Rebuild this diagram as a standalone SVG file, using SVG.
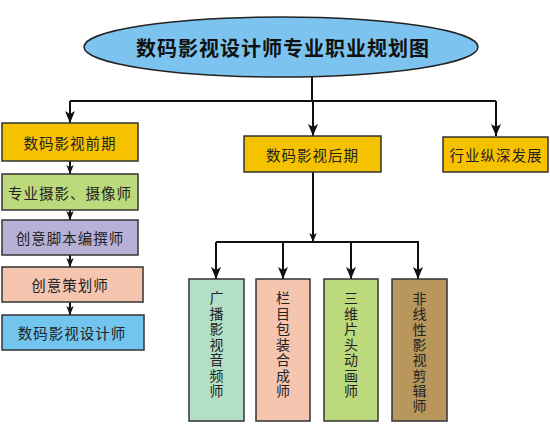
<svg xmlns="http://www.w3.org/2000/svg" width="550" height="440" viewBox="0 0 550 440">
<defs>
<marker id="ah" viewBox="0 0 12 10" refX="12" refY="5" markerWidth="12" markerHeight="10" markerUnits="userSpaceOnUse" orient="auto">
<path d="M0,0 L3,5 L0,10 L12,5 Z" fill="#111"/>
</marker>
<marker id="ahs" viewBox="0 0 12 10" refX="12" refY="5" markerWidth="9" markerHeight="8" markerUnits="userSpaceOnUse" orient="auto">
<path d="M0,0 L3,5 L0,10 L12,5 Z" fill="#111"/>
</marker>
</defs>
<style>
.box{stroke:#333;stroke-width:1.5}
.t{font-family:"Noto Sans CJK SC","Noto Sans",sans-serif;font-size:14.5px;fill:#222;text-anchor:middle;dominant-baseline:central;letter-spacing:1px}
.v{font-family:"Noto Sans CJK SC","Noto Sans",sans-serif;font-size:14px;fill:#222;text-anchor:middle;dominant-baseline:central}
.c{fill:none;stroke:#111;stroke-width:2}
</style>
<rect width="550" height="440" fill="#fff"/>
<g id="connectors">
<path class="c" d="M312,77 V101"/>
<path class="c" d="M70,101 H496"/>
<path class="c" d="M70,101 V123" marker-end="url(#ah)"/>
<path class="c" d="M313,101 V136" marker-end="url(#ah)"/>
<path class="c" d="M496,101 V136" marker-end="url(#ah)"/>
<path class="c" d="M70,161 V174" marker-end="url(#ahs)"/>
<path class="c" d="M70,210 V220" marker-end="url(#ahs)"/>
<path class="c" d="M70,255 V267" marker-end="url(#ahs)"/>
<path class="c" d="M70,302 V315" marker-end="url(#ahs)"/>
<path class="c" d="M313,172 V242" marker-end="url(#ahs)"/>
<path class="c" d="M216,242 H419"/>
<path class="c" d="M216,242 V279" marker-end="url(#ah)"/>
<path class="c" d="M283,242 V279" marker-end="url(#ah)"/>
<path class="c" d="M351,242 V279" marker-end="url(#ah)"/>
<path class="c" d="M418,242 V279" marker-end="url(#ah)"/>
</g>
<g id="title">
<ellipse cx="281" cy="47" rx="197" ry="30" fill="#7cc4ef" stroke="#222" stroke-width="1.5"/>
<text x="283" y="47" font-family="'Noto Sans CJK SC',sans-serif" font-size="20" font-weight="bold" fill="#111" text-anchor="middle" dominant-baseline="central" letter-spacing="1">数码影视设计师专业职业规划图</text>
</g>
<g id="qianqi"><rect class="box" x="2" y="123" width="136" height="38" fill="#f6c200"/><text class="t" x="70" y="142">数码影视前期</text></g>
<g id="sheying"><rect class="box" x="2" y="174" width="136" height="36" fill="#bcd97c"/><text class="t" x="70" y="192">专业摄影、摄像师</text></g>
<g id="jiaoben"><rect class="box" x="2" y="220" width="136" height="35" fill="#b8b0d6"/><text class="t" x="70" y="237.5">创意脚本编撰师</text></g>
<g id="cehua"><rect class="box" x="2" y="267" width="141" height="35" fill="#f5c5b0"/><text class="t" x="70" y="284.5">创意策划师</text></g>
<g id="sheji"><rect class="box" x="2" y="315" width="142" height="35" fill="#72c5ee"/><text class="t" x="72" y="332.5">数码影视设计师</text></g>
<g id="houqi"><rect class="box" x="244" y="136" width="137" height="36" fill="#f6c200"/><text class="t" x="312.5" y="154">数码影视后期</text></g>
<g id="hangye"><rect class="box" x="443" y="137" width="105" height="35" fill="#f6c200"/><text class="t" x="496" y="154.5">行业纵深发展</text></g>
<g id="guangbo"><rect class="box" x="189" y="279" width="55" height="142" fill="#b3dfc7"/>
<text class="v" x="216.5" y="297">广</text><text class="v" x="216.5" y="312.5">播</text><text class="v" x="216.5" y="328">影</text><text class="v" x="216.5" y="343.5">视</text><text class="v" x="216.5" y="359">音</text><text class="v" x="216.5" y="374.5">频</text><text class="v" x="216.5" y="390">师</text></g>
<g id="lanmu"><rect class="box" x="256" y="279" width="54" height="142" fill="#f5c5b0"/>
<text class="v" x="283" y="297">栏</text><text class="v" x="283" y="312.5">目</text><text class="v" x="283" y="328">包</text><text class="v" x="283" y="343.5">装</text><text class="v" x="283" y="359">合</text><text class="v" x="283" y="374.5">成</text><text class="v" x="283" y="390">师</text></g>
<g id="sanwei"><rect class="box" x="324" y="279" width="54" height="142" fill="#bcd97c"/>
<text class="v" x="351" y="297">三</text><text class="v" x="351" y="312.5">维</text><text class="v" x="351" y="328">片</text><text class="v" x="351" y="343.5">头</text><text class="v" x="351" y="359">动</text><text class="v" x="351" y="374.5">画</text><text class="v" x="351" y="390">师</text></g>
<g id="feixian"><rect class="box" x="392" y="279" width="55" height="142" fill="#b8965c"/>
<text class="v" x="419.5" y="298">非</text><text class="v" x="419.5" y="313.3">线</text><text class="v" x="419.5" y="328.6">性</text><text class="v" x="419.5" y="343.9">影</text><text class="v" x="419.5" y="359.2">视</text><text class="v" x="419.5" y="374.5">剪</text><text class="v" x="419.5" y="389.8">辑</text><text class="v" x="419.5" y="405">师</text></g>
</svg>
